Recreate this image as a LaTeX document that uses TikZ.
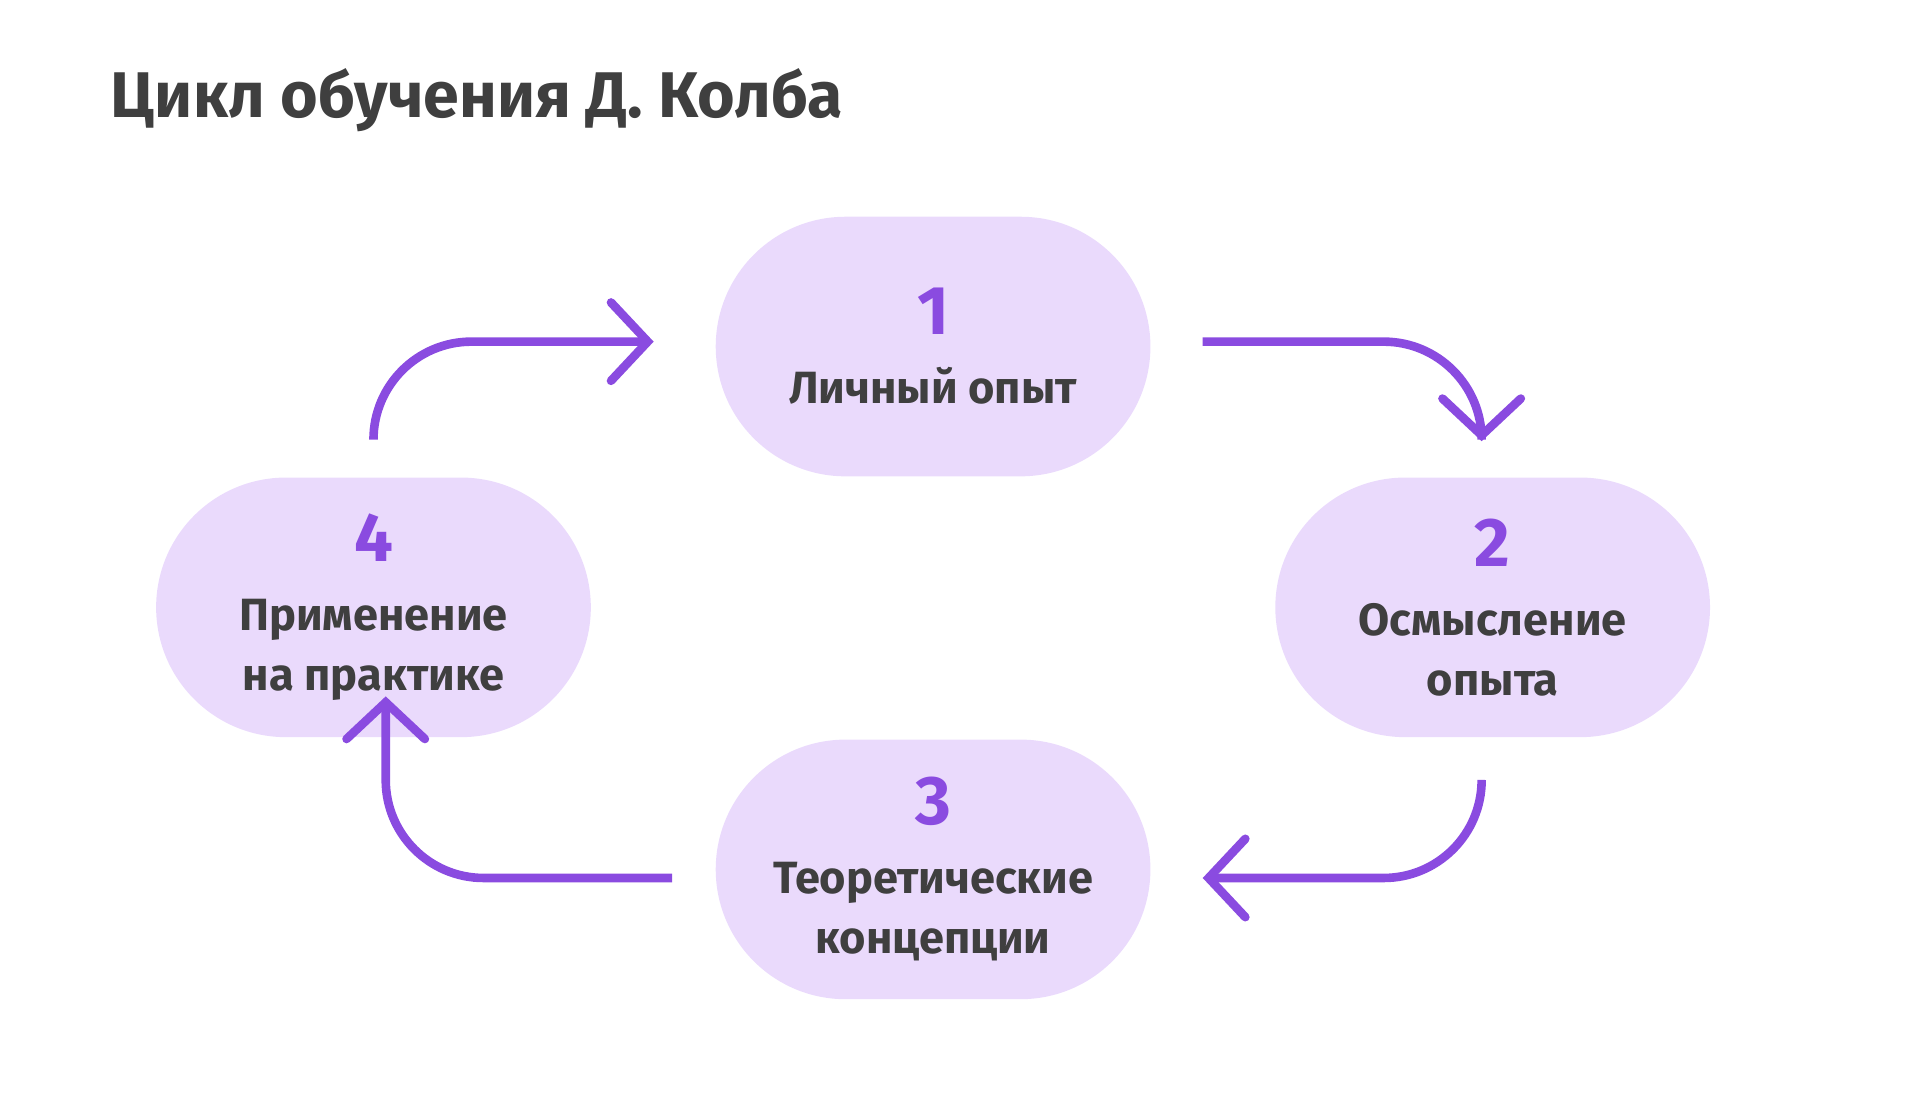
\documentclass[tikz,border=0pt]{standalone}
\usepackage{fontspec}
\setmainfont{Fira Sans}
\usetikzlibrary{positioning, arrows.meta, calc}
\definecolor{lilac}{HTML}{EADAFC}
\definecolor{violet}{HTML}{8A4BE0}
\definecolor{ink}{HTML}{3F3F3F}
\newcommand{\stagenum}[1]{\textcolor{violet}{\fontsize{16}{18}\selectfont #1}}

\begin{document}
\begin{tikzpicture}[
    stage/.style={rectangle, fill=lilac, minimum width=3.55cm, minimum height=2.12cm, rounded corners=1.06cm, align=center, text=ink, font=\fontsize{10.5}{14}\selectfont\bfseries},
    arr/.style={-{Straight Barb[length=3mm, width=6.4mm, line cap=round]}, violet, line width=2pt, rounded corners=0.8cm}
]
\useasboundingbox (0,0) rectangle (15.68,8.94);

% Title
\node[anchor=base west, text=ink, font=\fontsize{15}{18}\selectfont\bfseries] (title) at (0.78,7.98) {Цикл обучения Д. Колба};

% Stages
\node[stage] (s1) at (7.62,6.11) {\stagenum{1}\\[2pt] Личный опыт};
\node[stage] (s2) at (12.19,3.98) {\stagenum{2}\\[2pt] Осмысление\\опыта};
\node[stage] (s3) at (7.62,1.84) {\stagenum{3}\\[2pt] Теоретические\\концепции};
\node[stage] (s4) at (3.05,3.98) {\stagenum{4}\\[2pt] Применение\\на практике};

% Cycle
\draw[arr] ($(s4.north)+(0,0.31)$) |- ($(s1.west)+(-0.5,0.04)$);
\draw[arr] ($(s1.east)+(0.42,0.04)$) -| ($(s2.north)+(-0.09,0.29)$);
\draw[arr] ($(s2.south)+(-0.09,-0.35)$) |- ($(s3.east)+(0.42,-0.07)$);
\draw[arr] ($(s3.west)+(-0.35,-0.07)$) -| ($(s4.south)+(0.10,0.34)$);

\end{tikzpicture}
\end{document}
